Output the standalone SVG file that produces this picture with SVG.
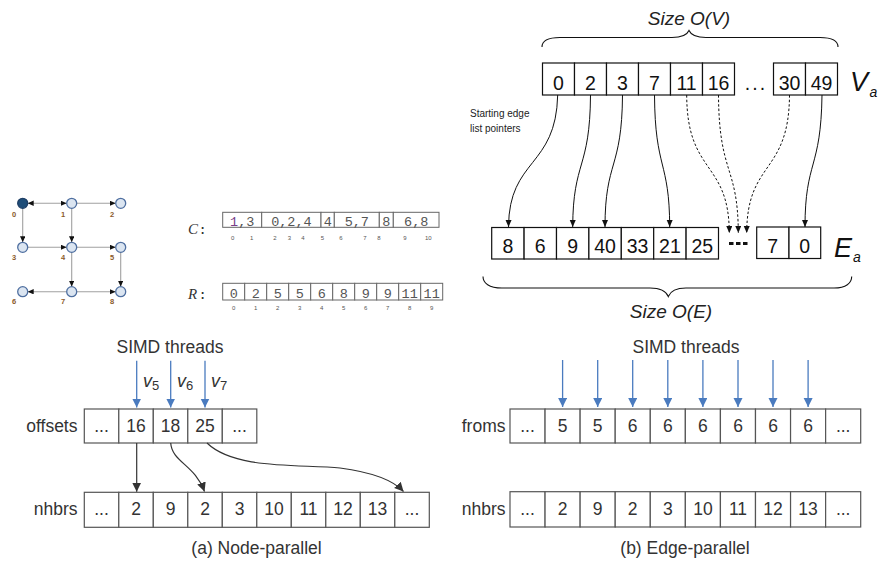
<svg xmlns="http://www.w3.org/2000/svg" width="878" height="563" viewBox="0 0 878 563">
<defs>
<marker id="ahk" markerUnits="userSpaceOnUse" markerWidth="8" markerHeight="7" refX="7" refY="3" orient="auto"><path d="M0,0 L7,3 L0,6 z" fill="#111"/></marker>
<marker id="ahg" markerUnits="userSpaceOnUse" markerWidth="7" markerHeight="6" refX="6" refY="2.7" orient="auto-start-reverse"><path d="M0,0 L6,2.7 L0,5.4 z" fill="#111"/></marker>
<marker id="ahb" markerUnits="userSpaceOnUse" markerWidth="11" markerHeight="10" refX="9" refY="4.5" orient="auto"><path d="M0,0 L9,4.5 L0,9 z" fill="#4a7bbf"/></marker>
<marker id="ahd" markerUnits="userSpaceOnUse" markerWidth="11" markerHeight="10" refX="9" refY="4.5" orient="auto"><path d="M0,0 L9,4.5 L0,9 z" fill="#333"/></marker>
</defs>
<style>
.sans{font-family:"Liberation Sans",Arial,sans-serif}
.cellk{fill:#fff;stroke:#111;stroke-width:1.2}
.cellg{fill:#fff;stroke:#555;stroke-width:1.2}
.cellm{fill:#fff;stroke:#666;stroke-width:1}
.tk{font-family:"Liberation Sans",Arial,sans-serif;font-size:19.5px;fill:#111;text-anchor:middle}
.tg{font-family:"Liberation Sans",Arial,sans-serif;font-size:17.5px;fill:#333;text-anchor:middle}
.lbl{font-family:"Liberation Sans",Arial,sans-serif;font-size:17.5px;fill:#333;text-anchor:end}
.mono{font-family:"Liberation Mono","Courier New",monospace;font-size:13.5px;fill:#555;text-anchor:middle}
.idx{font-family:"Liberation Sans",Arial,sans-serif;font-size:6px;fill:#555;text-anchor:middle}
.node{fill:#dbe5f1;stroke:#4f6fa0;stroke-width:1.3}
.gedge{stroke:#a0a0a0;stroke-width:1.1;fill:none;marker-end:url(#ahg)}
.nl{font-family:"Liberation Sans",Arial,sans-serif;font-size:7.5px;font-weight:bold;fill:#8a5a2b;text-anchor:middle}
.pk{fill:none;stroke:#111;stroke-width:1;marker-end:url(#ahk)}
.pd{fill:none;stroke:#111;stroke-width:1;stroke-dasharray:2.5,2;marker-end:url(#ahk)}
.blue{stroke:#4a7bbf;stroke-width:1.3;marker-end:url(#ahb)}
.dk{fill:none;stroke:#333;stroke-width:1.2;marker-end:url(#ahd)}
.brace{fill:none;stroke:#111;stroke-width:1.1}
</style>
<rect width="878" height="563" fill="#fff"/>

<!-- ===== small graph ===== -->
<g id="graph-edges">
<line x1="27.7" y1="203.3" x2="66.7" y2="203.3" class="gedge" style="marker-start:url(#ahg)"/>
<line x1="76.7" y1="203.3" x2="115.7" y2="203.3" class="gedge"/>
<line x1="22.7" y1="208.3" x2="22.7" y2="242.3" class="gedge"/>
<line x1="71.7" y1="208.3" x2="71.7" y2="242.3" class="gedge"/>
<line x1="27.7" y1="247.3" x2="66.7" y2="247.3" class="gedge"/>
<line x1="76.7" y1="247.3" x2="115.7" y2="247.3" class="gedge"/>
<line x1="71.7" y1="252.3" x2="71.7" y2="286.7" class="gedge"/>
<line x1="120.7" y1="252.3" x2="120.7" y2="286.7" class="gedge"/>
<line x1="66.7" y1="291.7" x2="27.7" y2="291.7" class="gedge"/>
<line x1="76.7" y1="291.7" x2="115.7" y2="291.7" class="gedge"/>
</g>
<g id="g0"><circle cx="22.7" cy="203.3" r="5" fill="#1f4e79" stroke="#1f3f66" stroke-width="1.3"/><text x="14" y="216.5" class="nl">0</text></g>
<g id="g1"><circle cx="71.7" cy="203.3" r="5" class="node"/><text x="63" y="216.5" class="nl">1</text></g>
<g id="g2"><circle cx="120.7" cy="203.3" r="5" class="node"/><text x="112" y="216.5" class="nl">2</text></g>
<g id="g3"><circle cx="22.7" cy="247.3" r="5" class="node"/><text x="14" y="260" class="nl">3</text></g>
<g id="g4"><circle cx="71.7" cy="247.3" r="5" class="node"/><text x="63" y="260" class="nl">4</text></g>
<g id="g5"><circle cx="120.7" cy="247.3" r="5" class="node"/><text x="112" y="260" class="nl">5</text></g>
<g id="g6"><circle cx="22.7" cy="291.7" r="5" class="node"/><text x="14" y="304" class="nl">6</text></g>
<g id="g7"><circle cx="71.7" cy="291.7" r="5" class="node"/><text x="63" y="304" class="nl">7</text></g>
<g id="g8"><circle cx="120.7" cy="291.7" r="5" class="node"/><text x="112" y="304" class="nl">8</text></g>

<!-- ===== C array ===== -->
<g id="C-array">
<text x="188" y="234" font-family="'Liberation Serif',serif" font-style="italic" font-size="15" fill="#333">C</text>
<text x="199" y="234" font-family="'Liberation Mono',monospace" font-weight="bold" font-size="12" fill="#333">:</text>
<rect x="222.7" y="212.3" width="39" height="15" class="cellm"/>
<rect x="261.7" y="212.3" width="59.3" height="15" class="cellm"/>
<rect x="321" y="212.3" width="13.3" height="15" class="cellm"/>
<rect x="334.3" y="212.3" width="45" height="15" class="cellm"/>
<rect x="379.3" y="212.3" width="14" height="15" class="cellm"/>
<rect x="393.3" y="212.3" width="45.7" height="15" class="cellm"/>
<text x="242.2" y="225.5" class="mono"><tspan fill="#7a3f8a">1</tspan>,3</text>
<text x="291.4" y="225.5" class="mono">0,2,4</text>
<text x="327.7" y="225.5" class="mono">4</text>
<text x="356.8" y="225.5" class="mono">5,7</text>
<text x="386.3" y="225.5" class="mono">8</text>
<text x="416.2" y="225.5" class="mono">6,8</text>
<text x="232.7" y="240" class="idx">0</text><text x="251.7" y="240" class="idx">1</text>
<text x="275" y="240" class="idx">2</text><text x="289.3" y="240" class="idx">3</text>
<text x="303" y="240" class="idx">4</text><text x="322.3" y="240" class="idx">5</text>
<text x="341" y="240" class="idx">6</text><text x="365" y="240" class="idx">7</text>
<text x="379" y="240" class="idx">8</text><text x="405" y="240" class="idx">9</text>
<text x="428.3" y="240" class="idx">10</text>
</g>

<!-- ===== R array ===== -->
<g id="R-array">
<text x="188" y="299" font-family="'Liberation Serif',serif" font-style="italic" font-size="15" fill="#333">R</text>
<text x="199" y="299" font-family="'Liberation Mono',monospace" font-weight="bold" font-size="12" fill="#333">:</text>
<g class="cellm">
<rect x="222.7" y="283.3" width="22" height="16.7"/><rect x="244.7" y="283.3" width="22" height="16.7"/>
<rect x="266.7" y="283.3" width="22" height="16.7"/><rect x="288.7" y="283.3" width="22" height="16.7"/>
<rect x="310.7" y="283.3" width="22" height="16.7"/><rect x="332.7" y="283.3" width="22" height="16.7"/>
<rect x="354.7" y="283.3" width="22" height="16.7"/><rect x="376.7" y="283.3" width="22" height="16.7"/>
<rect x="398.7" y="283.3" width="22" height="16.7"/><rect x="420.7" y="283.3" width="22" height="16.7"/>
</g>
<text x="233.7" y="298" class="mono">0</text><text x="255.7" y="298" class="mono">2</text>
<text x="277.7" y="298" class="mono">5</text><text x="299.7" y="298" class="mono">5</text>
<text x="321.7" y="298" class="mono">6</text><text x="343.7" y="298" class="mono">8</text>
<text x="365.7" y="298" class="mono">9</text><text x="387.7" y="298" class="mono">9</text>
<text x="409.7" y="298" class="mono">11</text><text x="431.7" y="298" class="mono">11</text>
<text x="233.7" y="310" class="idx">0</text><text x="255.7" y="310" class="idx">1</text>
<text x="277.7" y="310" class="idx">2</text><text x="299.7" y="310" class="idx">3</text>
<text x="321.7" y="310" class="idx">4</text><text x="343.7" y="310" class="idx">5</text>
<text x="365.7" y="310" class="idx">6</text><text x="387.7" y="310" class="idx">7</text>
<text x="409.7" y="310" class="idx">8</text><text x="431.7" y="310" class="idx">9</text>
</g>

<!-- ===== Va array ===== -->
<g id="Va">
<text x="689" y="25" class="sans" font-style="italic" font-size="19" fill="#222" text-anchor="middle">Size O(V)</text>
<path class="brace" d="M542,47 C542,41 548,37.5 560,37.5 L672,37.5 C682,37.5 687,35 689,30.5 C691,35 696,37.5 706,37.5 L820,37.5 C832,37.5 838,41 838,47"/>
<rect x="542.5" y="63" width="32" height="32" class="cellk"/><rect x="574.5" y="63" width="32" height="32" class="cellk"/>
<rect x="606.5" y="63" width="32" height="32" class="cellk"/><rect x="638.5" y="63" width="32" height="32" class="cellk"/>
<rect x="670.5" y="63" width="32" height="32" class="cellk"/><rect x="702.5" y="63" width="32" height="32" class="cellk"/>
<rect x="773.5" y="63" width="32" height="32" class="cellk"/><rect x="805.5" y="63" width="32" height="32" class="cellk"/>
<text x="558.5" y="89.5" class="tk">0</text><text x="590.5" y="89.5" class="tk">2</text>
<text x="622.5" y="89.5" class="tk">3</text><text x="654.5" y="89.5" class="tk">7</text>
<text x="686.5" y="89.5" class="tk">11</text><text x="718.5" y="89.5" class="tk">16</text>
<text x="789.5" y="89.5" class="tk">30</text><text x="821.5" y="89.5" class="tk">49</text>
<text x="756" y="90" class="tk" letter-spacing="2">...</text>
<text x="850" y="91" class="sans" font-style="italic" font-size="27" fill="#111">V</text>
<text x="869.5" y="97" class="sans" font-style="italic" font-size="14" fill="#111">a</text>
<text x="470" y="116.5" class="sans" font-size="10" fill="#222">Starting edge</text>
<text x="470" y="131.5" class="sans" font-size="10" fill="#222">list pointers</text>
</g>

<!-- ===== Ea array ===== -->
<g id="Ea">
<rect x="491.7" y="227.5" width="32.4" height="31.5" class="cellk"/><rect x="524.1" y="227.5" width="32.4" height="31.5" class="cellk"/>
<rect x="556.5" y="227.5" width="32.4" height="31.5" class="cellk"/><rect x="588.9" y="227.5" width="32.4" height="31.5" class="cellk"/>
<rect x="621.3" y="227.5" width="32.4" height="31.5" class="cellk"/><rect x="653.7" y="227.5" width="32.4" height="31.5" class="cellk"/>
<rect x="686.1" y="227.5" width="32.4" height="31.5" class="cellk"/>
<rect x="756.7" y="227" width="32.3" height="31.5" class="cellk"/><rect x="789" y="227" width="31.7" height="31.5" class="cellk"/>
<text x="507.9" y="252.5" class="tk">8</text><text x="540.3" y="252.5" class="tk">6</text>
<text x="572.7" y="252.5" class="tk">9</text><text x="605.1" y="252.5" class="tk">40</text>
<text x="637.5" y="252.5" class="tk">33</text><text x="669.9" y="252.5" class="tk">21</text>
<text x="702.3" y="252.5" class="tk">25</text>
<text x="772.8" y="252.5" class="tk">7</text><text x="804.8" y="252.5" class="tk">0</text>
<line x1="729" y1="243.5" x2="748" y2="243.5" stroke="#111" stroke-width="3" stroke-dasharray="4.5,2.5"/>
<text x="834" y="256.5" class="sans" font-style="italic" font-size="27" fill="#111">E</text>
<text x="853" y="262" class="sans" font-style="italic" font-size="14" fill="#111">a</text>
<path class="brace" d="M483,276.5 C483,283 489,288 502,288 L650,288 C661,288 666,291 668.3,296.5 C670.5,291 675.5,288 686,288 L834,288 C846,288 851.7,283 851.7,276.5"/>
<text x="671" y="318" class="sans" font-style="italic" font-size="19" fill="#222" text-anchor="middle">Size O(E)</text>
</g>

<!-- ===== bottom-left: Node-parallel ===== -->
<g id="node-parallel">
<text x="170" y="353" class="tg">SIMD threads</text>
<text x="143" y="386.5" class="sans" font-style="italic" font-size="18" fill="#333">v</text><text x="152" y="390" class="sans" font-size="13" fill="#333">5</text>
<text x="177" y="386.5" class="sans" font-style="italic" font-size="18" fill="#333">v</text><text x="186" y="390" class="sans" font-size="13" fill="#333">6</text>
<text x="211" y="386.5" class="sans" font-style="italic" font-size="18" fill="#333">v</text><text x="220" y="390" class="sans" font-size="13" fill="#333">7</text>
<text x="77.5" y="432" class="lbl">offsets</text>
<rect x="84.3" y="409" width="34.5" height="34" class="cellg"/><rect x="118.8" y="409" width="34.5" height="34" class="cellg"/>
<rect x="153.3" y="409" width="34.5" height="34" class="cellg"/><rect x="187.8" y="409" width="34.5" height="34" class="cellg"/>
<rect x="222.3" y="409" width="34.5" height="34" class="cellg"/>
<text x="101.5" y="432" class="tg">...</text><text x="136" y="432" class="tg">16</text>
<text x="170.5" y="432" class="tg">18</text><text x="205" y="432" class="tg">25</text>
<text x="239.5" y="432" class="tg">...</text>
<text x="77.5" y="515" class="lbl">nhbrs</text>
<g class="cellg">
<rect x="84.3" y="492.3" width="34.5" height="35"/><rect x="118.8" y="492.3" width="34.5" height="35"/>
<rect x="153.3" y="492.3" width="34.5" height="35"/><rect x="187.8" y="492.3" width="34.5" height="35"/>
<rect x="222.3" y="492.3" width="34.5" height="35"/><rect x="256.8" y="492.3" width="34.5" height="35"/>
<rect x="291.3" y="492.3" width="34.5" height="35"/><rect x="325.8" y="492.3" width="34.5" height="35"/>
<rect x="360.3" y="492.3" width="34.5" height="35"/><rect x="394.8" y="492.3" width="34.5" height="35"/>
</g>
<text x="101.5" y="515" class="tg">...</text><text x="136" y="515" class="tg">2</text>
<text x="170.5" y="515" class="tg">9</text><text x="205" y="515" class="tg">2</text>
<text x="239.5" y="515" class="tg">3</text><text x="274" y="515" class="tg">10</text>
<text x="308.5" y="515" class="tg">11</text><text x="343" y="515" class="tg">12</text>
<text x="377.5" y="515" class="tg">13</text><text x="412" y="515" class="tg">...</text>
<text x="256.5" y="553.5" class="tg" font-size="17">(a) Node-parallel</text>
</g>

<!-- ===== bottom-right: Edge-parallel ===== -->
<g id="edge-parallel">
<text x="686" y="353" class="tg">SIMD threads</text>
<text x="505.5" y="432" class="lbl">froms</text>
<g class="cellg">
<rect x="510" y="409" width="35.07" height="34"/><rect x="545.07" y="409" width="35.07" height="34"/>
<rect x="580.14" y="409" width="35.07" height="34"/><rect x="615.21" y="409" width="35.07" height="34"/>
<rect x="650.28" y="409" width="35.07" height="34"/><rect x="685.35" y="409" width="35.07" height="34"/>
<rect x="720.42" y="409" width="35.07" height="34"/><rect x="755.49" y="409" width="35.07" height="34"/>
<rect x="790.56" y="409" width="35.07" height="34"/><rect x="825.63" y="409" width="35.07" height="34"/>
</g>
<text x="527.5" y="432" class="tg">...</text><text x="562.6" y="432" class="tg">5</text>
<text x="597.7" y="432" class="tg">5</text><text x="632.7" y="432" class="tg">6</text>
<text x="667.8" y="432" class="tg">6</text><text x="702.9" y="432" class="tg">6</text>
<text x="738" y="432" class="tg">6</text><text x="773" y="432" class="tg">6</text>
<text x="808.1" y="432" class="tg">6</text><text x="843.2" y="432" class="tg">...</text>
<text x="505.5" y="515" class="lbl">nhbrs</text>
<g class="cellg">
<rect x="510" y="491.7" width="35.07" height="35.3"/><rect x="545.07" y="491.7" width="35.07" height="35.3"/>
<rect x="580.14" y="491.7" width="35.07" height="35.3"/><rect x="615.21" y="491.7" width="35.07" height="35.3"/>
<rect x="650.28" y="491.7" width="35.07" height="35.3"/><rect x="685.35" y="491.7" width="35.07" height="35.3"/>
<rect x="720.42" y="491.7" width="35.07" height="35.3"/><rect x="755.49" y="491.7" width="35.07" height="35.3"/>
<rect x="790.56" y="491.7" width="35.07" height="35.3"/><rect x="825.63" y="491.7" width="35.07" height="35.3"/>
</g>
<text x="527.5" y="515" class="tg">...</text><text x="562.6" y="515" class="tg">2</text>
<text x="597.7" y="515" class="tg">9</text><text x="632.7" y="515" class="tg">2</text>
<text x="667.8" y="515" class="tg">3</text><text x="702.9" y="515" class="tg">10</text>
<text x="738" y="515" class="tg">11</text><text x="773" y="515" class="tg">12</text>
<text x="808.1" y="515" class="tg">13</text><text x="843.2" y="515" class="tg">...</text>
<text x="685" y="553.5" class="tg" font-size="17">(b) Edge-parallel</text>
</g>

<!-- ===== connectors ===== -->
<g id="connectors">
<path class="pk" d="M557.7,95 C556,168 509,158 508.5,227"/>
<path class="pk" d="M590.5,95 C590,170 573,160 572.7,227"/>
<path class="pk" d="M622.5,95 C622,170 605,160 605,227"/>
<path class="pk" d="M654.5,95 C655,170 669.5,160 669.7,227"/>
<path class="pd" d="M686.7,95 C687,175 729,160 729.3,233"/>
<path class="pd" d="M718.5,95 C719,175 738,165 738.3,233"/>
<path class="pd" d="M789.5,95 C789,175 747,160 746.7,233"/>
<path class="pk" d="M822,95 C821,170 805,160 805,227"/>
<line x1="136.7" y1="360.7" x2="136.7" y2="407.5" class="blue"/>
<line x1="170.7" y1="360.7" x2="170.7" y2="407.5" class="blue"/>
<line x1="205" y1="360.7" x2="205" y2="407.5" class="blue"/>
<line x1="136.7" y1="443" x2="136.7" y2="491.7" class="dk"/>
<path class="dk" d="M170.7,443 C172,462 195,465 204.5,491.5"/>
<path class="dk" d="M207,443 C235,470 300,464 340,468 C370,472 393,480 403.5,491.5"/>
<line x1="562.6" y1="360" x2="562.6" y2="407" class="blue"/>
<line x1="597.7" y1="360" x2="597.7" y2="407" class="blue"/>
<line x1="632.7" y1="360" x2="632.7" y2="407" class="blue"/>
<line x1="667.8" y1="360" x2="667.8" y2="407" class="blue"/>
<line x1="702.9" y1="360" x2="702.9" y2="407" class="blue"/>
<line x1="738" y1="360" x2="738" y2="407" class="blue"/>
<line x1="773" y1="360" x2="773" y2="407" class="blue"/>
<line x1="808.1" y1="360" x2="808.1" y2="407" class="blue"/>
</g>
</svg>
